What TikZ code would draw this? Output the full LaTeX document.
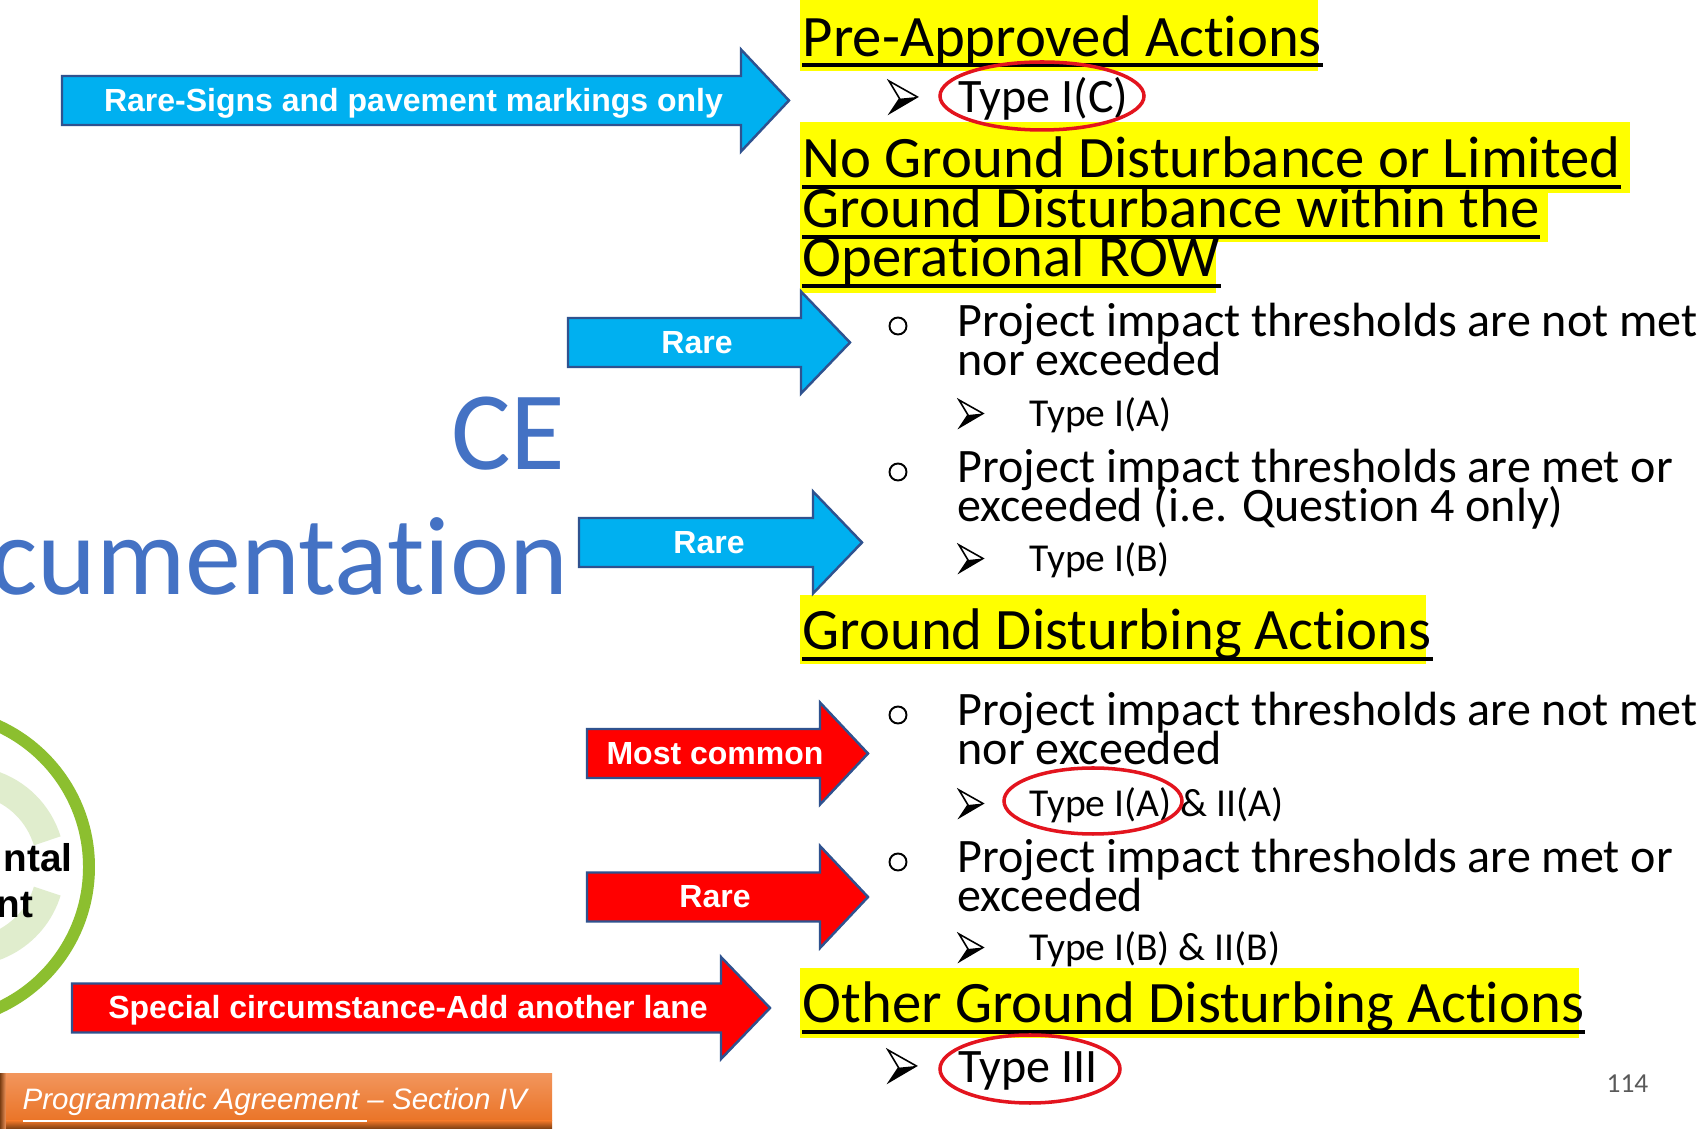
\documentclass[tikz,border=0pt]{standalone}
\usepackage{fontspec}
\setmainfont{Carlito}[Ligatures=CommonOff]
\newfontfamily\arialfont{Liberation Sans}
\usetikzlibrary{calc}
\definecolor{hlyellow}{HTML}{FFFF00}
\definecolor{arrowblue}{HTML}{00B0F0}
\definecolor{arrowred}{HTML}{FF0000}
\definecolor{arrowedge}{HTML}{2F528F}
\definecolor{ringred}{HTML}{E3141E}
\definecolor{ceblue}{HTML}{4472C4}
\definecolor{logogreen}{HTML}{8CBF2F}
\definecolor{palegreen}{HTML}{E0EDCD}
\definecolor{footlight}{HTML}{F2955C}
\definecolor{footdark}{HTML}{EA7427}
\definecolor{footbrown}{HTML}{7A3D12}
\definecolor{pagegray}{HTML}{595959}
\tikzset{
  heading/.style={anchor=base west,inner sep=0pt,text height=0.40cm,text depth=0.08cm,
    font=\fontsize{16.7}{19}\selectfont},
  bodyline/.style={anchor=base west,inner sep=0pt,font=\fontsize{13.66}{16}\selectfont},
  subline/.style={anchor=base west,inner sep=0pt,font=\fontsize{11.25}{13}\selectfont},
  hilite/.style={fill=hlyellow},
  uline/.style={line width=0.95pt},
  bluearrow/.style={fill=arrowblue,draw=arrowedge,line width=0.7pt,line join=miter},
  redarrow/.style={fill=arrowred,draw=arrowedge,line width=0.7pt,line join=miter},
  arrowlabel/.style={anchor=base,inner sep=0pt,text=white,font=\arialfont\bfseries\fontsize{9.1}{11}\selectfont},
  ringmark/.style={draw=ringred,line width=1pt},
  hollowbullet/.style={draw=black,line width=0.55pt},
  cetitle/.style={anchor=base east,inner sep=0pt,text=ceblue,font=\fontsize{31.8}{36}\selectfont},
  logotext/.style={anchor=base east,inner sep=0pt,font=\arialfont\bfseries\fontsize{11}{13}\selectfont},
  arrowbullet/.pic={
    \fill[black] (9,15) -- (24,13.5) -- (1,27) -- cycle;
    \draw[line width=0.45pt,line join=miter] (0,0) -- (24,13.5) -- (1,27) -- (9,15) -- cycle;
  }
}
% block arrow: style, left x, head x, tip x, centre y
\newcommand{\blockarrow}[5]{%
  \draw[#1] (#2,#5-24.5) -- (#3,#5-24.5) -- (#3,#5-51) -- (#4,#5)
    -- (#3,#5+51) -- (#3,#5+24.5) -- (#2,#5+24.5) -- cycle;}
% two tight lines, baseline on the first one
\newcommand{\twolines}[2]{\vtop{\baselineskip=10.9pt\lineskiplimit=-\maxdimen
  \hbox{#1}\hbox{#2}}}
% t and i without the font's ligature
\newcommand{\tisplit}{t\kern0pt i}

\begin{document}
\begin{tikzpicture}[x=0.01cm,y=-0.01cm]
  \useasboundingbox (0,0) rectangle (1702,1131);
  \fill[white] (0,0) rectangle (1702,1131);
  \clip (0,0) rectangle (1702,1131);

  % logo and title on the left
  \draw[logogreen,line width=3.4pt] (-66,867) circle [radius=155];
  \draw[palegreen,line width=8pt] (-35,866) ++(17:86) arc [start angle=17,end angle=343,radius=86];
  \node[logotext] (logoA) at (73,872) {ntal};
  \node[logotext] (logoB) at (34,918) {nt};
  \node[cetitle] (ceA) at (566,470) {CE};
  \node[cetitle] (ceB) at (569,595) {cumenta\tisplit on};

  % yellow highlights
  \fill[hilite] (800,0) rectangle (1318,71);
  \fill[hilite] (800,122) rectangle (1630,193);
  \fill[hilite] (800,193) rectangle (1548,242);
  \fill[hilite] (800,242) rectangle (1216,293);
  \fill[hilite] (800,595) rectangle (1426,664);
  \fill[hilite] (800,968) rectangle (1579,1038);

  % headings
  \node[heading] (pre) at (802,57) {Pre-Approved Ac\tisplit ons};
  \node[heading] (ngdA) at (802,178) {No Ground Disturbance or Limited};
  \node[heading] (ngdB) at (802,228) {Ground Disturbance within the};
  \node[heading] (ngdC) at (802,277) {Opera\tisplit onal ROW};
  \node[heading] (gda) at (802,650) {Ground Disturbing Ac\tisplit ons};
  \node[heading] (ogda) at (802,1023) {Other Ground Disturbing Ac\tisplit ons};
  \foreach \h/\d in {pre/8,ngdA/9,ngdB/9,ngdC/9,gda/9,ogda/9}
    \draw[uline] ($(\h.base west)+(0,\d)$) -- ($(\h.base east)+(0,\d)$);

  % items
  \pic[scale=1.18] at (889,81) {arrowbullet};
  \node[bodyline] (typeIC) at (958,113) {Type I(C)};

  \draw[hollowbullet] (898,326) circle [radius=8.5];
  \node[bodyline] (itemA) at (957,337) {\twolines{Project impact thresholds are not met}{nor exceeded}};
  \pic at (959,400) {arrowbullet};
  \node[subline] (typeIA) at (1029,427) {Type I(A)};
  \draw[hollowbullet] (898,472) circle [radius=8.5];
  \node[bodyline] (itemB) at (957,483) {\twolines{Project impact thresholds are met or}{exceeded (i.e. Ques\tisplit on 4 only)}};
  \pic at (959,545) {arrowbullet};
  \node[subline] (typeIB) at (1029,572) {Type I(B)};

  \draw[hollowbullet] (898,715) circle [radius=8.5];
  \node[bodyline] (itemC) at (957,726) {\twolines{Project impact thresholds are not met}{nor exceeded}};
  \pic at (959,790) {arrowbullet};
  \node[subline] (typeIIA) at (1029,817) {Type I(A) \& II(A)};
  \draw[hollowbullet] (898,862) circle [radius=8.5];
  \node[bodyline] (itemD) at (957,873) {\twolines{Project impact thresholds are met or}{exceeded}};
  \pic at (959,934) {arrowbullet};
  \node[subline] (typeIIB) at (1029,961) {Type I(B) \& II(B)};

  \pic[scale=1.18] at (888,1050) {arrowbullet};
  \node[bodyline] (typeIII) at (958,1083) {Type III};

  % red rings
  \draw[ringmark] (1042,96) ellipse [x radius=102,y radius=34];
  \draw[ringmark] (1093,801) ellipse [x radius=89,y radius=33];
  \draw[ringmark] (1030,1069) ellipse [x radius=90,y radius=34];

  % block arrows
  \blockarrow{bluearrow}{62}{741}{789}{100.5}
  \blockarrow{bluearrow}{568}{801}{850}{342.5}
  \blockarrow{bluearrow}{579}{813}{862}{542.5}
  \blockarrow{redarrow}{587}{820}{868}{753.5}
  \blockarrow{redarrow}{587}{820}{868}{897}
  \blockarrow{redarrow}{72}{721}{770}{1008}
  \node[arrowlabel] (signs) at (413.5,111.5) {Rare-Signs and pavement markings only};
  \node[arrowlabel] (rareA) at (697,353.5) {Rare};
  \node[arrowlabel] (rareB) at (709,553.5) {Rare};
  \node[arrowlabel] (common) at (715,764.5) {Most common};
  \node[arrowlabel] (rareC) at (715,908) {Rare};
  \node[arrowlabel] (special) at (408,1019) {Special circumstance-Add another lane};

  % footer
  \shade[top color=footlight,bottom color=footdark] (0,1074) rectangle (552,1121);
  \shade[top color=footdark,bottom color=footbrown] (0,1121) rectangle (552,1129);
  \shade[left color=footbrown,right color=footlight] (0,1074) rectangle (6,1129);
  \node[anchor=base west,inner sep=0pt,text=white,font=\arialfont\itshape\fontsize{8.4}{10}\selectfont]
    (footer) at (22,1110) {\underline{Programmatic Agreement\ }– Section IV};
  \node[anchor=base east,inner sep=0pt,text=pagegray,font=\fontsize{7.8}{9}\selectfont] (pagenum) at (1649,1093) {114};
\end{tikzpicture}
\end{document}
